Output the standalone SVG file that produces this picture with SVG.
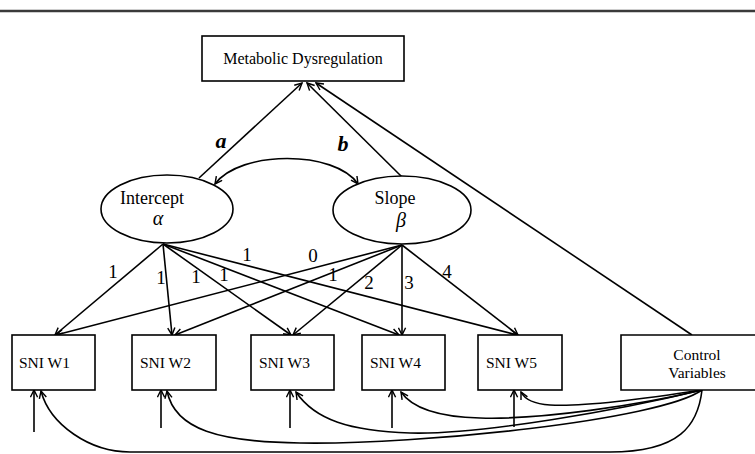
<svg xmlns="http://www.w3.org/2000/svg" width="755" height="454" viewBox="0 0 755 454">
<defs>
<marker id="ah" viewBox="0 0 10 10" refX="9" refY="5" markerWidth="9" markerHeight="9" markerUnits="userSpaceOnUse" orient="auto-start-reverse">
<path d="M1,1 L9,5 L1,9" fill="none" stroke="#000" stroke-width="1.6"/>
</marker>
<style>
.box{fill:#fff;stroke:#000;stroke-width:1.6}
.t{font-family:"Liberation Serif","Times New Roman",serif;fill:#000}
.lbl{font-family:"Liberation Serif","Times New Roman",serif;font-size:19px;fill:#000;text-anchor:middle}
.ab{font-family:"Liberation Serif","Times New Roman",serif;font-size:22px;font-weight:bold;font-style:italic;fill:#000;text-anchor:middle}
.c{fill:none;stroke:#000;stroke-width:1.6}
.a{fill:none;stroke:#000;stroke-width:1.6;marker-end:url(#ah)}
</style>
</defs>
<rect width="755" height="454" fill="#fff"/>
<line x1="0" y1="11" x2="755" y2="11" stroke="#3a3a3a" stroke-width="2.5"/>

<g id="connectors">
<line class="a" x1="199" y1="178" x2="302" y2="83"/>
<line class="a" x1="402" y1="177" x2="307" y2="83"/>
<line class="a" x1="692" y1="335" x2="316" y2="83"/>
<path class="a" style="marker-start:url(#ah)" d="M 215 184 C 240 150, 335 150, 358 184"/>
<line class="a" x1="163" y1="244" x2="55" y2="335"/>
<line class="a" x1="163" y1="244" x2="172" y2="335"/>
<line class="a" x1="163" y1="244" x2="291" y2="335"/>
<line class="a" x1="163" y1="244" x2="399" y2="335"/>
<line class="a" x1="163" y1="244" x2="517" y2="335"/>
<line class="a" x1="402" y1="245" x2="56" y2="335"/>
<line class="a" x1="402" y1="245" x2="175" y2="335"/>
<line class="a" x1="402" y1="245" x2="293" y2="335"/>
<line class="a" x1="402" y1="245" x2="402" y2="335"/>
<line class="a" x1="402" y1="245" x2="518" y2="335"/>
<line class="a" x1="34" y1="432" x2="34" y2="390"/>
<line class="a" x1="161" y1="428" x2="161" y2="390"/>
<line class="a" x1="290" y1="428" x2="290" y2="390"/>
<line class="a" x1="392" y1="428" x2="392" y2="390"/>
<line class="a" x1="514" y1="427" x2="514" y2="390"/>
<path class="a" d="M 702 390 C 698 425, 680 452, 610 452 L 130 452 C 90 452, 50 425, 41 391"/>
<path class="a" d="M 702 390 C 660 420, 420 445, 300 443 C 220 442, 175 430, 167 391"/>
<path class="a" d="M 702 390 C 620 410, 480 435, 410 433 C 350 431, 315 420, 296 392"/>
<path class="a" d="M 702 390 C 640 405, 540 420, 480 418 C 440 417, 412 408, 401 392"/>
<path class="a" d="M 702 390 C 650 398, 580 407, 550 405 C 535 404, 525 400, 521 392"/>
<text class="lbl" x="113" y="278">1</text>
<text class="lbl" x="161" y="284">1</text>
<text class="lbl" x="196" y="283">1</text>
<text class="lbl" x="224" y="281">1</text>
<text class="lbl" x="247" y="261">1</text>
<text class="lbl" x="313" y="262">0</text>
<text class="lbl" x="333" y="281">1</text>
<text class="lbl" x="369" y="289">2</text>
<text class="lbl" x="409" y="289">3</text>
<text class="lbl" x="447" y="278">4</text>
<text class="ab" x="221" y="148">a</text>
<text class="ab" x="343" y="151">b</text>
</g>

<g id="metabolic">
<rect class="box" x="202" y="36" width="202" height="45"/>
<text class="t" x="303" y="64" font-size="16" text-anchor="middle">Metabolic Dysregulation</text>
</g>
<g id="intercept">
<ellipse class="box" cx="167" cy="209" rx="66" ry="34"/>
<text class="t" x="152" y="204" font-size="18" text-anchor="middle">Intercept</text>
<text class="t" x="158" y="225" font-size="20" font-style="italic" text-anchor="middle">α</text>
</g>
<g id="slope">
<ellipse class="box" cx="402" cy="210" rx="69" ry="34"/>
<text class="t" x="395" y="204" font-size="18" text-anchor="middle">Slope</text>
<text class="t" x="401" y="227" font-size="20" font-style="italic" text-anchor="middle">β</text>
</g>
<g id="w1">
<rect class="box" x="12" y="335" width="83" height="55"/>
<text class="t" x="19" y="368" font-size="15.5">SNI W1</text>
</g>
<g id="w2">
<rect class="box" x="132" y="335" width="84" height="55"/>
<text class="t" x="140" y="368" font-size="15.5">SNI W2</text>
</g>
<g id="w3">
<rect class="box" x="251" y="335" width="83" height="55"/>
<text class="t" x="259" y="368" font-size="15.5">SNI W3</text>
</g>
<g id="w4">
<rect class="box" x="362" y="335" width="83" height="55"/>
<text class="t" x="370" y="368" font-size="15.5">SNI W4</text>
</g>
<g id="w5">
<rect class="box" x="478" y="335" width="84" height="55"/>
<text class="t" x="486" y="368" font-size="15.5">SNI W5</text>
</g>
<g id="control">
<path d="M 755 335 H 621 V 390 H 755" fill="#fff" stroke="#000" stroke-width="1.6"/>
<text class="t" x="697" y="360" font-size="15.5" text-anchor="middle">Control</text>
<text class="t" x="697" y="378" font-size="15.5" text-anchor="middle">Variables</text>
</g>
</svg>
